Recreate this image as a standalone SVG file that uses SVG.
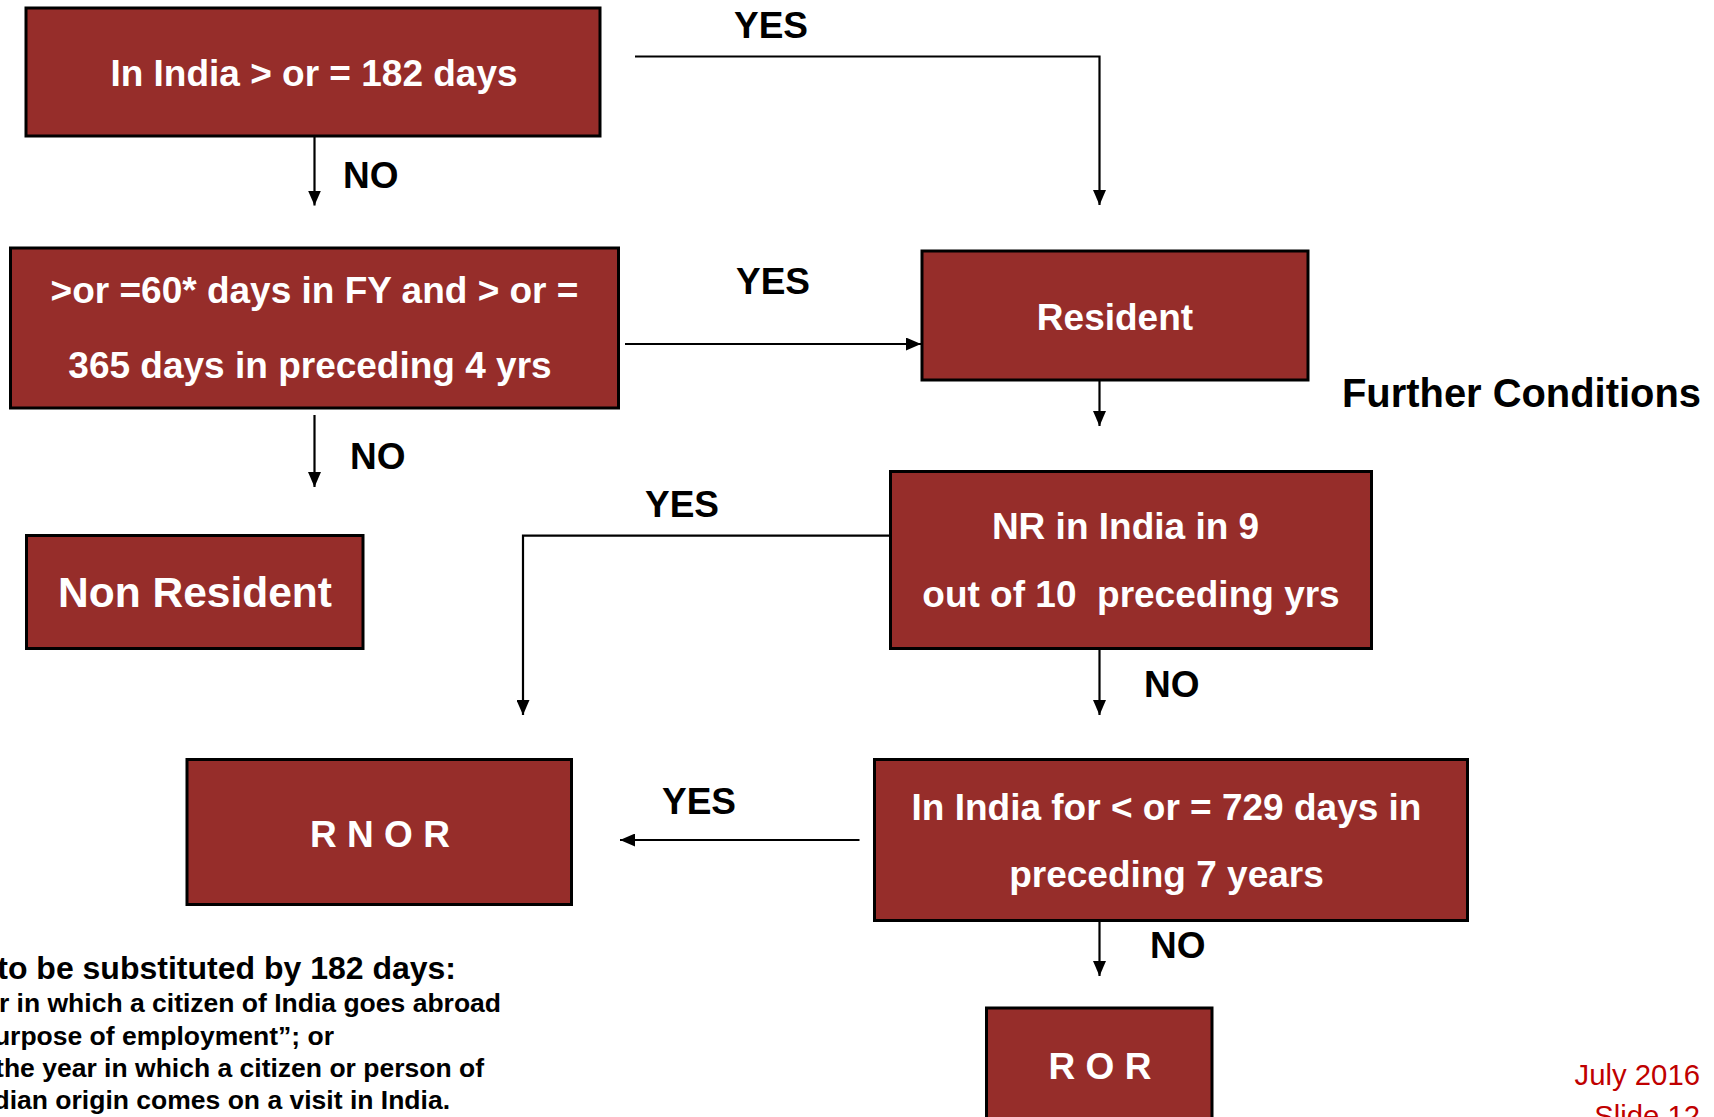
<svg xmlns="http://www.w3.org/2000/svg" width="1714" height="1117" viewBox="0 0 1714 1117">
<style>
.box{fill:#962d2a;stroke:#000;stroke-width:3}
.bt{font-family:"Liberation Sans",Arial,sans-serif;font-weight:bold;font-size:37px;fill:#fff;text-anchor:middle}
.lb{font-family:"Liberation Sans",Arial,sans-serif;font-weight:bold;font-size:37px;fill:#000}
.ft{font-family:"Liberation Sans",Arial,sans-serif;font-weight:bold;font-size:26.5px;fill:#000;text-anchor:end}
.rd{font-family:"Liberation Sans",Arial,sans-serif;font-size:29.3px;fill:#c00000;text-anchor:end}
.cn{fill:none;stroke:#000;stroke-width:2.2;marker-end:url(#ah)}
</style>
<defs>
<marker id="ah" markerUnits="userSpaceOnUse" markerWidth="15" markerHeight="13" refX="15" refY="6.5" orient="auto">
<path d="M0,0 L15,6.5 L0,13 z" fill="#000"/>
</marker>
</defs>
<rect width="1714" height="1117" fill="#fff"/>

<g id="connectors">
<path class="cn" d="M635,56.5 H1099.5 V205"/>
<path class="cn" d="M314.5,137 V205.5"/>
<path class="cn" d="M625,344 H921"/>
<path class="cn" d="M314.5,415 V487"/>
<path class="cn" d="M1099.5,381 V426"/>
<path class="cn" d="M890,535.7 H523 V715"/>
<path class="cn" d="M1099.5,649 V715"/>
<path class="cn" d="M859.5,840 H620"/>
<path class="cn" d="M1099.5,921 V976"/>
</g>

<g id="labels">
<text class="lb" x="734" y="38">YES</text>
<text class="lb" x="343" y="188">NO</text>
<text class="lb" x="736" y="294">YES</text>
<text class="lb" x="350" y="469">NO</text>
<text class="lb" x="645" y="517">YES</text>
<text class="lb" x="1144" y="697">NO</text>
<text class="lb" x="662" y="814">YES</text>
<text class="lb" x="1150" y="958">NO</text>
<text class="lb" x="1342" y="407" style="font-size:39.9px">Further Conditions</text>
</g>

<g id="n1">
<rect class="box" x="26" y="8" width="574" height="128"/>
<text class="bt" x="314" y="86">In India &gt; or = 182 days</text>
</g>
<g id="n2">
<rect class="box" x="10.5" y="248" width="608" height="160"/>
<text class="bt" x="314.5" y="303">&gt;or =60* days in FY and &gt; or =</text>
<text class="bt" x="310" y="378">365 days in preceding 4 yrs</text>
</g>
<g id="n3">
<rect class="box" x="922" y="251" width="386" height="129"/>
<text class="bt" x="1115" y="330">Resident</text>
</g>
<g id="n4">
<rect class="box" x="26.5" y="535.5" width="336.5" height="113"/>
<text class="bt" x="195" y="607" style="font-size:42.5px">Non Resident</text>
</g>
<g id="n5">
<rect class="box" x="890.5" y="471.5" width="481" height="177"/>
<text class="bt" x="1125.5" y="539">NR in India in 9</text>
<text class="bt" x="1131" y="607" xml:space="preserve">out of 10  preceding yrs</text>
</g>
<g id="n6">
<rect class="box" x="874.5" y="759.5" width="593" height="161"/>
<text class="bt" x="1166.5" y="820">In India for &lt; or = 729 days in</text>
<text class="bt" x="1166.5" y="886.5">preceding 7 years</text>
</g>
<g id="n7">
<rect class="box" x="187" y="759.5" width="384.5" height="145"/>
<text class="bt" x="380" y="846.5">R N O R</text>
</g>
<g id="n8">
<rect class="box" x="986.5" y="1008" width="225.5" height="130"/>
<text class="bt" x="1100" y="1079">R O R</text>
</g>

<g id="footnote">
<text class="ft" x="456" y="979" style="font-size:32px">to be substituted by 182 days:</text>
<text class="ft" x="501" y="1012">r in which a citizen of India goes abroad</text>
<text class="ft" x="334" y="1044.5">urpose of employment”; or</text>
<text class="ft" x="484" y="1077">the year in which a citizen or person of</text>
<text class="ft" x="450" y="1108.5">dian origin comes on a visit in India.</text>
</g>

<g id="footer">
<text class="rd" x="1700" y="1085">July 2016</text>
<text class="rd" x="1700" y="1125.5">Slide 12</text>
</g>
</svg>
